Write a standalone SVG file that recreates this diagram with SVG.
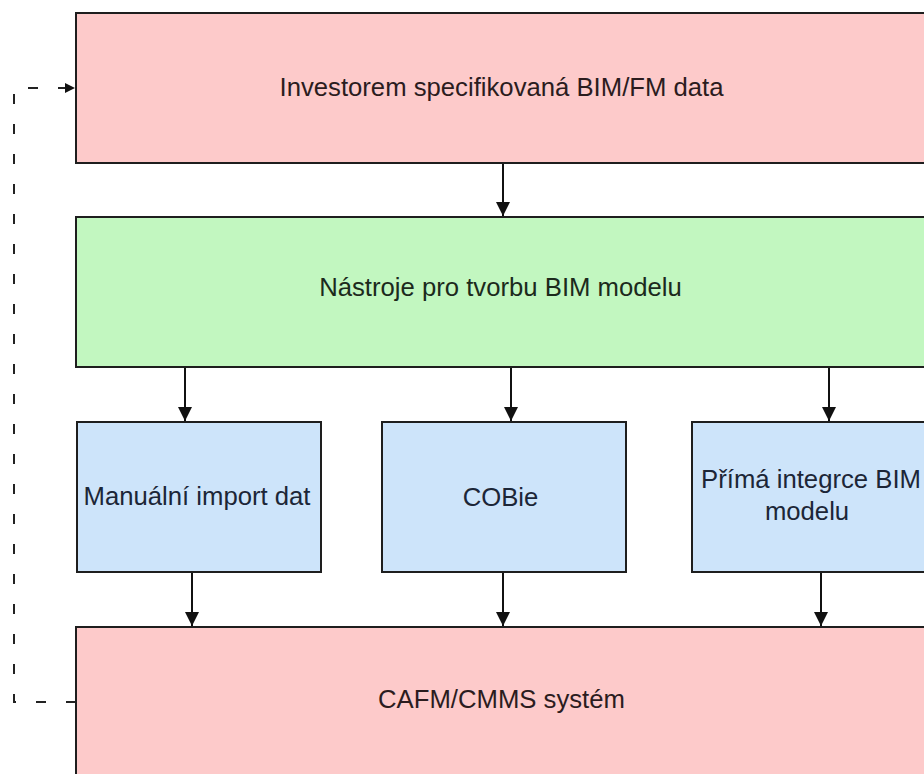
<svg xmlns="http://www.w3.org/2000/svg" width="924" height="774" viewBox="0 0 924 774">
  <style>
    .box { stroke: #1e1e1e; stroke-width: 2; }
    .pink { fill: #fdcaca; }
    .green { fill: #c2f7c0; }
    .blue { fill: #cde4fa; }
    .lbl { font-family: "Liberation Sans", Arial, sans-serif; font-size: 25.7px; text-anchor: middle; }
    .lbl-pink { fill: #2b1c1e; }
    .lbl-green { fill: #1c2a1c; }
    .lbl-blue { fill: #1c2637; }
    .flow { stroke: #111; stroke-width: 2; fill: none; marker-end: url(#head); }
    .feedback { stroke: #222; stroke-width: 2; fill: none; stroke-dasharray: 10 20; marker-end: url(#head-small); }
  </style>
  <defs>
    <marker id="head" viewBox="0 0 10 10" refX="10" refY="5" markerUnits="userSpaceOnUse" markerWidth="15" markerHeight="14" orient="auto">
      <path d="M0,0 L10,5 L0,10 z" fill="#111"/>
    </marker>
    <marker id="head-small" viewBox="0 0 10 10" refX="10" refY="5" markerUnits="userSpaceOnUse" markerWidth="12" markerHeight="10" orient="auto">
      <path d="M0,0 L10,5 L0,10 z" fill="#111"/>
    </marker>
  </defs>

  <rect width="924" height="774" fill="#ffffff"/>

  <!-- connectors -->
  <g id="connectors">
    <line class="flow" x1="503" y1="164" x2="503" y2="216"/>
    <line class="flow" x1="185" y1="368" x2="185" y2="421"/>
    <line class="flow" x1="511" y1="368" x2="511" y2="421"/>
    <line class="flow" x1="829" y1="368" x2="829" y2="421"/>
    <line class="flow" x1="192" y1="573" x2="192" y2="626"/>
    <line class="flow" x1="503" y1="573" x2="503" y2="626"/>
    <line class="flow" x1="821" y1="573" x2="821" y2="626"/>
    <!-- feedback loop from CAFM/CMMS back to the investor data -->
    <path class="feedback" d="M76,702 H14 V88 H75"/>
  </g>

  <g id="investor-data">
    <rect class="box pink" x="76" y="13" width="851" height="150"/>
    <text class="lbl lbl-pink" x="501.5" y="95.5">Investorem specifikovaná BIM/FM data</text>
  </g>

  <g id="bim-tools">
    <rect class="box green" x="76" y="217" width="851" height="150"/>
    <text class="lbl lbl-green" x="500.5" y="295.5">Nástroje pro tvorbu BIM modelu</text>
  </g>

  <g id="manual-import">
    <rect class="box blue" x="77" y="422" width="244" height="150"/>
    <text class="lbl lbl-blue" x="197" y="505">Manuální import dat</text>
  </g>

  <g id="cobie">
    <rect class="box blue" x="382" y="422" width="244" height="150"/>
    <text class="lbl lbl-blue" x="500.5" y="506">COBie</text>
  </g>

  <g id="direct-integration">
    <rect class="box blue" x="692" y="422" width="244" height="150"/>
    <text class="lbl lbl-blue" x="811" y="488">Přímá integrce BIM</text>
    <text class="lbl lbl-blue" x="807" y="520">modelu</text>
  </g>

  <g id="cafm-cmms">
    <rect class="box pink" x="76" y="627" width="851" height="160"/>
    <text class="lbl lbl-pink" x="501.5" y="708">CAFM/CMMS systém</text>
  </g>
</svg>
